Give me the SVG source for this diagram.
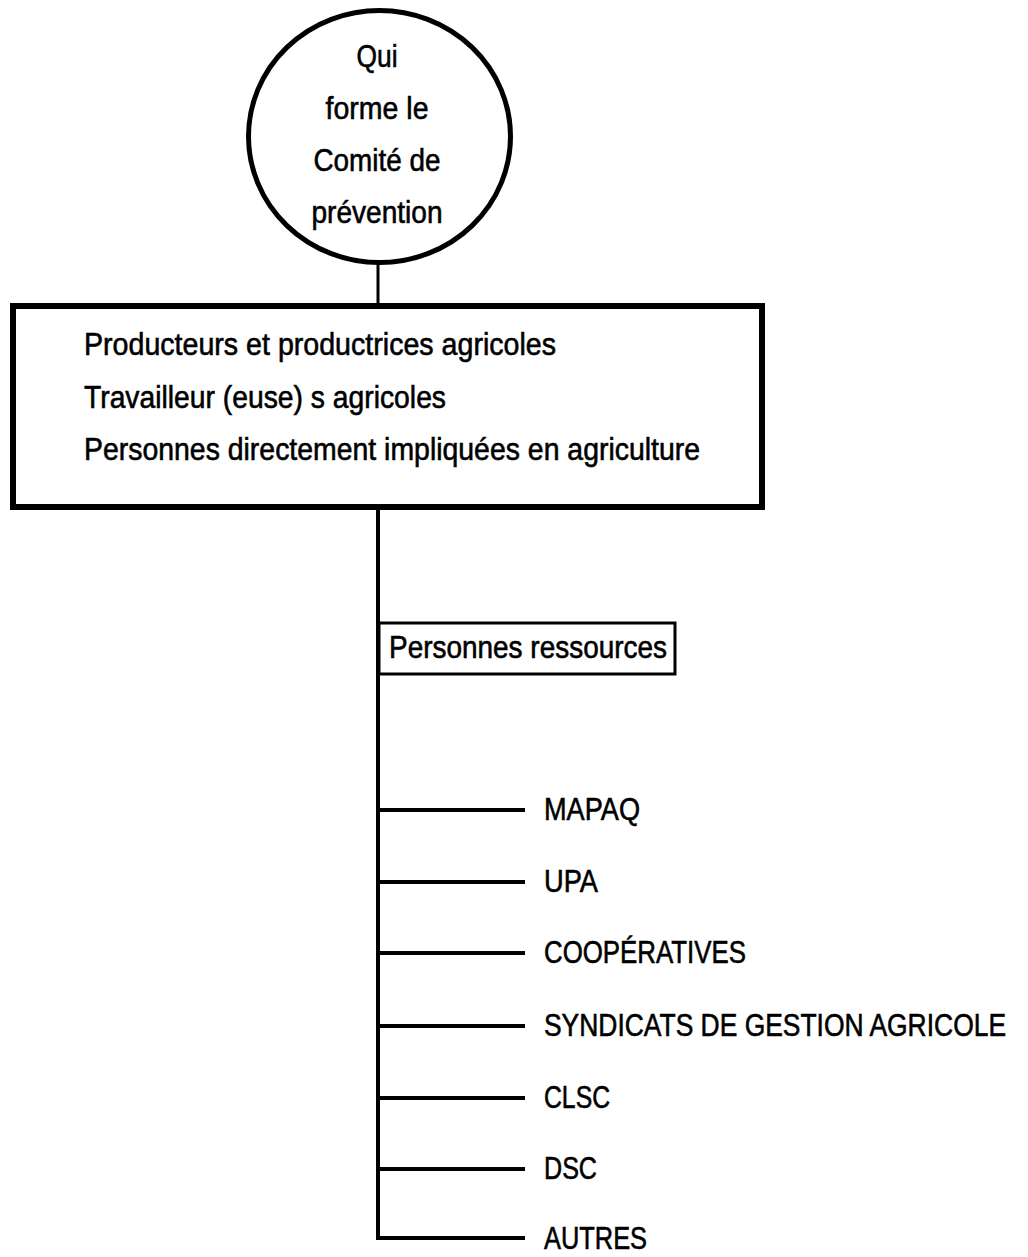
<svg xmlns="http://www.w3.org/2000/svg" width="1028" height="1257" viewBox="0 0 1028 1257">
  <style>
    .t { font-family: "Liberation Sans", Arial, sans-serif; font-size: 32px; fill: #000; stroke: #000; stroke-width: 0.6px; }
    .mid { text-anchor: middle; }
    .ln { stroke: #000; fill: none; stroke-linecap: butt; }
  </style>
  <rect width="1028" height="1257" fill="#fff"/>

  <!-- connectors -->
  <g id="connectors" class="ln">
    <line x1="378" y1="262" x2="378" y2="306" stroke-width="3"/>
    <line x1="378" y1="508" x2="378" y2="1240" stroke-width="4"/>
    <line x1="376" y1="810" x2="525" y2="810" stroke-width="4"/>
    <line x1="376" y1="882" x2="525" y2="882" stroke-width="4"/>
    <line x1="376" y1="953" x2="525" y2="953" stroke-width="4"/>
    <line x1="376" y1="1026" x2="525" y2="1026" stroke-width="4"/>
    <line x1="376" y1="1098" x2="525" y2="1098" stroke-width="4"/>
    <line x1="376" y1="1169" x2="525" y2="1169" stroke-width="4"/>
    <line x1="376" y1="1238" x2="525" y2="1238" stroke-width="4"/>
  </g>

  <!-- title circle -->
  <g id="node-title">
    <ellipse cx="379.5" cy="136.5" rx="131" ry="126" fill="#fff" stroke="#000" stroke-width="5"/>
    <text class="t mid" x="377" y="67" textLength="41" lengthAdjust="spacingAndGlyphs">Qui</text>
    <text class="t mid" x="377" y="119" textLength="103" lengthAdjust="spacingAndGlyphs">forme le</text>
    <text class="t mid" x="377" y="171" textLength="127" lengthAdjust="spacingAndGlyphs">Comité de</text>
    <text class="t mid" x="377" y="223" textLength="131" lengthAdjust="spacingAndGlyphs">prévention</text>
  </g>

  <!-- members box -->
  <g id="node-members">
    <rect x="13" y="306" width="749" height="201" fill="#fff" stroke="#000" stroke-width="6"/>
    <text class="t" x="84" y="355" textLength="472" lengthAdjust="spacingAndGlyphs">Producteurs et productrices agricoles</text>
    <text class="t" x="84" y="408" textLength="362" lengthAdjust="spacingAndGlyphs">Travailleur (euse) s agricoles</text>
    <text class="t" x="84" y="460" textLength="616" lengthAdjust="spacingAndGlyphs">Personnes directement impliquées en agriculture</text>
  </g>

  <!-- resource persons box -->
  <g id="node-resources">
    <rect x="379" y="623" width="296" height="51" fill="#fff" stroke="#000" stroke-width="3"/>
    <text class="t" x="389" y="658" textLength="278" lengthAdjust="spacingAndGlyphs">Personnes ressources</text>
  </g>

  <!-- resource organisations -->
  <g id="node-mapaq"><text class="t" x="544" y="820" textLength="96" lengthAdjust="spacingAndGlyphs">MAPAQ</text></g>
  <g id="node-upa"><text class="t" x="544" y="892" textLength="54" lengthAdjust="spacingAndGlyphs">UPA</text></g>
  <g id="node-cooperatives"><text class="t" x="544" y="963" textLength="202" lengthAdjust="spacingAndGlyphs">COOPÉRATIVES</text></g>
  <g id="node-syndicats"><text class="t" x="544" y="1036" textLength="462" lengthAdjust="spacingAndGlyphs">SYNDICATS DE GESTION AGRICOLE</text></g>
  <g id="node-clsc"><text class="t" x="544" y="1108" textLength="66" lengthAdjust="spacingAndGlyphs">CLSC</text></g>
  <g id="node-dsc"><text class="t" x="544" y="1179" textLength="53" lengthAdjust="spacingAndGlyphs">DSC</text></g>
  <g id="node-autres"><text class="t" x="544" y="1249" textLength="103" lengthAdjust="spacingAndGlyphs">AUTRES</text></g>
</svg>
